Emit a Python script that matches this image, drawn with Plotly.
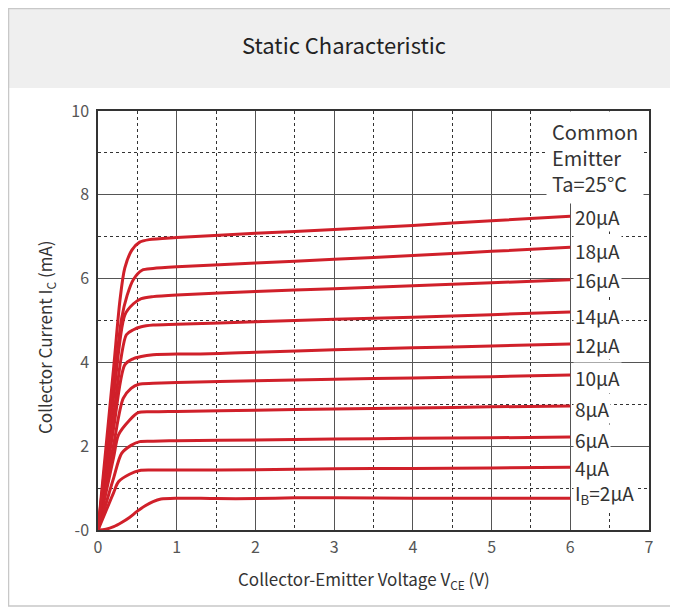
import plotly.graph_objects as go

# ---- data ----
base_currents = ["IB=2µA", "4µA", "6µA", "8µA", "10µA", "12µA", "14µA", "16µA", "18µA", "20µA"]
label_text = ["I<sub>B</sub>=2µA", "4µA", "6µA", "8µA", "10µA", "12µA", "14µA", "16µA", "18µA", "20µA"]

vce_2 = [0, 0.1, 0.2, 0.3, 0.4, 0.5, 0.6, 0.7, 0.8, 1.0, 1.5, 2.0, 2.5, 3.0, 4.0, 5.0, 6.0]
ic_2 = [0, 0.02, 0.08, 0.18, 0.30, 0.45, 0.58, 0.68, 0.74, 0.76, 0.75, 0.75, 0.77, 0.77, 0.76, 0.76, 0.76]

vce_4 = [0, 0.1, 0.2, 0.26, 0.4, 0.53, 0.7, 1, 2, 3, 4, 5, 6]
ic_4 = [0, 0.45, 0.9, 1.15, 1.33, 1.42, 1.43, 1.43, 1.44, 1.46, 1.47, 1.48, 1.50]

vce_6 = [0, 0.1, 0.2, 0.3, 0.42, 0.53, 0.7, 1, 2, 3, 4, 5, 6]
ic_6 = [0, 0.62, 1.25, 1.83, 2.02, 2.11, 2.12, 2.13, 2.15, 2.17, 2.19, 2.20, 2.22]

vce_8 = [0, 0.1, 0.2, 0.26, 0.4, 0.51, 0.7, 1, 2, 3, 4, 5, 6]
ic_8 = [0, 0.88, 1.75, 2.27, 2.62, 2.80, 2.82, 2.83, 2.86, 2.89, 2.91, 2.94, 2.96]

vce_10 = [0, 0.1, 0.2, 0.32, 0.42, 0.52, 0.7, 1, 2, 3, 4, 5, 6]
ic_10 = [0, 1.05, 2.05, 3.14, 3.38, 3.48, 3.50, 3.52, 3.56, 3.60, 3.63, 3.66, 3.70]

vce_12 = [0, 0.1, 0.2, 0.34, 0.44, 0.55, 0.7, 1.0, 1.3, 2, 3, 4, 5, 6]
ic_12 = [0, 1.25, 2.45, 3.94, 4.08, 4.14, 4.18, 4.20, 4.20, 4.24, 4.30, 4.35, 4.39, 4.44]

vce_14 = [0, 0.1, 0.2, 0.36, 0.45, 0.55, 0.7, 1, 2, 3, 4, 5, 6]
ic_14 = [0, 1.40, 2.75, 4.66, 4.78, 4.85, 4.89, 4.91, 4.97, 5.03, 5.08, 5.14, 5.20]

vce_16 = [0, 0.1, 0.2, 0.34, 0.45, 0.55, 0.7, 1, 2, 3, 4, 5, 6]
ic_16 = [0, 1.60, 3.20, 5.13, 5.40, 5.52, 5.57, 5.61, 5.69, 5.76, 5.83, 5.90, 5.97]

vce_18 = [0, 0.1, 0.2, 0.3, 0.37, 0.45, 0.56, 0.7, 1, 2, 3, 4, 5, 6]
ic_18 = [0, 1.75, 3.45, 5.05, 5.60, 5.98, 6.20, 6.24, 6.28, 6.37, 6.46, 6.55, 6.65, 6.75]

vce_20 = [0, 0.1, 0.2, 0.28, 0.34, 0.43, 0.53, 0.65, 1, 2, 3, 4, 5, 6]
ic_20 = [0, 1.95, 3.90, 5.50, 6.25, 6.68, 6.87, 6.93, 6.98, 7.08, 7.17, 7.27, 7.38, 7.49]

curves = [
    (vce_2, ic_2), (vce_4, ic_4), (vce_6, ic_6), (vce_8, ic_8), (vce_10, ic_10),
    (vce_12, ic_12), (vce_14, ic_14), (vce_16, ic_16), (vce_18, ic_18), (vce_20, ic_20),
]
label_y = [0.86, 1.48, 2.17, 2.91, 3.63, 4.42, 5.13, 5.99, 6.68, 7.49]

x_ticks = [0, 1, 2, 3, 4, 5, 6, 7]
y_ticks = [0, 2, 4, 6, 8, 10]
y_tick_text = ["-0", "2", "4", "6", "8", "10"]

title = "Static Characteristic"
note = "Common<br>Emitter<br>Ta=25°C"

# ---- figure (page has an 8px body margin, so everything is shifted by 8px) ----
OFF = 8
W, H = 678 - OFF, 608 - OFF
L, R, T, B = 98 - OFF, 649 - OFF, 111 - OFF, 530 - OFF
FONT = "Noto Sans CJK JP"
RED = "#d0202a"

def px(x):
    return (x - OFF - L) / (R - L)

def py(y):
    return (B - (y - OFF)) / (B - T)

fig = go.Figure()
for name, (xs, ys) in zip(base_currents, curves):
    fig.add_trace(go.Scatter(x=xs, y=ys, mode="lines", name=name,
                             line=dict(color=RED, width=3, shape="spline", smoothing=0.8),
                             showlegend=False, hoverinfo="skip"))

annotations = []
for txt, yv in zip(label_text, label_y):
    annotations.append(dict(x=6.04, y=yv, xref="x", yref="y", text=txt, showarrow=False,
                            xanchor="left", yanchor="middle", bgcolor="white",
                            font=dict(family=FONT, size=19, color="#333"), borderpad=1))
annotations.append(dict(x=px(546), y=py(111), xref="paper", yref="paper", text=note, showarrow=False,
                        xanchor="left", yanchor="top", align="left", bgcolor="white",
                        font=dict(family=FONT, size=20, color="#333"), borderpad=5))
annotations.append(dict(x=px(344), y=py(44), xref="paper", yref="paper", text=title, showarrow=False,
                        xanchor="center", yanchor="middle",
                        font=dict(family=FONT, size=22, color="#222")))
annotations.append(dict(x=px(364), y=py(579), xref="paper", yref="paper",
                        text="Collector-Emitter Voltage V<sub>CE</sub> (V)", showarrow=False,
                        xanchor="center", yanchor="middle",
                        font=dict(family=FONT, size=17, color="#333")))
annotations.append(dict(x=px(45), y=py(337), xref="paper", yref="paper",
                        text="Collector Current I<sub>C</sub> (mA)", showarrow=False, textangle=-90,
                        xanchor="center", yanchor="middle",
                        font=dict(family=FONT, size=17, color="#333")))

shapes = [
    dict(type="rect", xref="paper", yref="paper", x0=px(8), x1=px(677), y0=py(8), y1=py(88),
         fillcolor="#efefef", line=dict(width=0), layer="below"),
    dict(type="rect", xref="paper", yref="paper", x0=px(8.5), x1=px(676.5), y0=py(8.5), y1=py(606),
         fillcolor="rgba(0,0,0,0)", line=dict(color="#c8c8c8", width=1.5), layer="below"),
]

fig.update_layout(
    width=W, height=H,
    margin=dict(l=L, r=W - R, t=T, b=H - B, pad=0),
    paper_bgcolor="white", plot_bgcolor="white",
    annotations=annotations, shapes=shapes,
    font=dict(family=FONT),
)
fig.update_xaxes(range=[0, 7], tickvals=x_ticks, ticktext=[str(v) for v in x_ticks],
                 showgrid=True, gridcolor="#555", gridwidth=1,
                 minor=dict(dtick=0.5, showgrid=True, gridcolor="#333", griddash="3px,3px", gridwidth=1),
                 showline=True, linecolor="#333", linewidth=1.5, mirror=True,
                 zeroline=False, ticks="", ticklabelstandoff=2,
                 tickfont=dict(family=FONT, size=16, color="#555"))
fig.update_yaxes(range=[0, 10], tickvals=y_ticks, ticktext=y_tick_text,
                 showgrid=True, gridcolor="#555", gridwidth=1,
                 minor=dict(dtick=1, showgrid=True, gridcolor="#333", griddash="3px,3px", gridwidth=1),
                 showline=True, linecolor="#333", linewidth=1.5, mirror=True,
                 zeroline=False, ticks="", ticklabelstandoff=4,
                 tickfont=dict(family=FONT, size=16, color="#555"))

fig.write_html("out.html")
